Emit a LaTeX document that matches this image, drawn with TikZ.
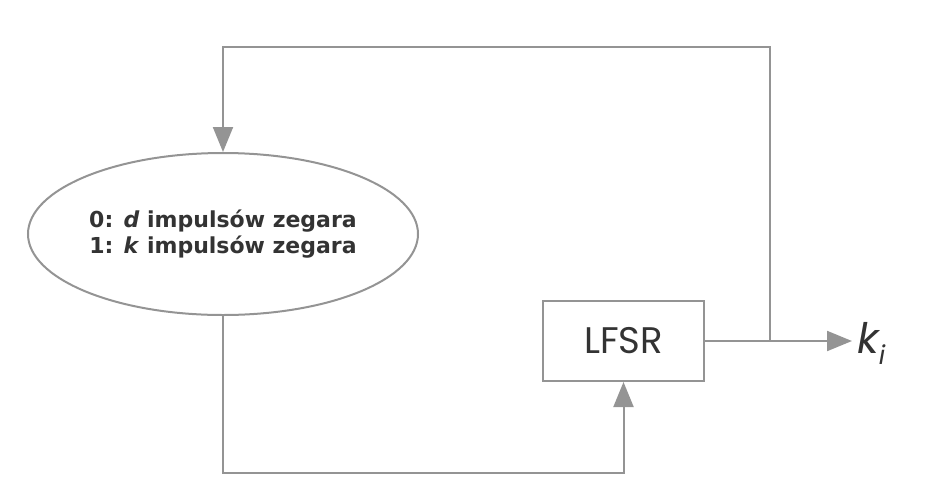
\documentclass[tikz,border=0pt]{standalone}
\usepackage{fontspec}
\usetikzlibrary{shapes.geometric,arrows.meta}
\newfontfamily\ellfont{DejaVu Sans}
\newfontfamily\boxfont{Poppins}
\definecolor{linegray}{HTML}{949494}
\definecolor{textgray}{HTML}{333333}
\tikzset{
  conn/.style={draw=linegray, line width=2pt},
  arr/.style={conn, -{Triangle[length=25pt,width=20pt]}},
  ellbox/.style={ellipse, draw=linegray, line width=2pt, minimum width=390pt, minimum height=162pt, inner sep=0pt, align=center, text=textgray, font=\ellfont\bfseries\fontsize{22}{26}\selectfont},
  regbox/.style={rectangle, draw=linegray, line width=2pt, minimum width=161pt, minimum height=80pt, inner sep=0pt, text=textgray, font=\boxfont\fontsize{37}{40}\selectfont},
}
\begin{document}
\begin{tikzpicture}[x=1pt,y=-1pt]
\useasboundingbox (0,0) rectangle (935,491);
\node[ellbox] (clk) at (223,234) {0: \textit{d} impulsów zegara\\1: \textit{k} impulsów zegara};
\node[regbox] (lfsr) at (623.5,341) {LFSR};
\coordinate (j) at (770,341);
\coordinate (out) at (852,341);
\node[anchor=west, inner sep=0pt, text=textgray, font=\boxfont\fontsize{42}{44}\selectfont] (ki) at (857,343) {\itshape k\raisebox{-11pt}{\fontsize{26}{28}\selectfont i}};
\coordinate (tr) at (770,47);
\coordinate (tl) at (223,47);
\coordinate (bl) at (223,473);
\coordinate (br) at (623.5,473);
\draw[arr] (lfsr.east) -- (out);
\draw[arr] (j) -- (tr) -- (tl) -- (clk.north);
\draw[arr] (clk.south) -- (bl) -- (br) -- (lfsr.south);
\end{tikzpicture}
\end{document}
